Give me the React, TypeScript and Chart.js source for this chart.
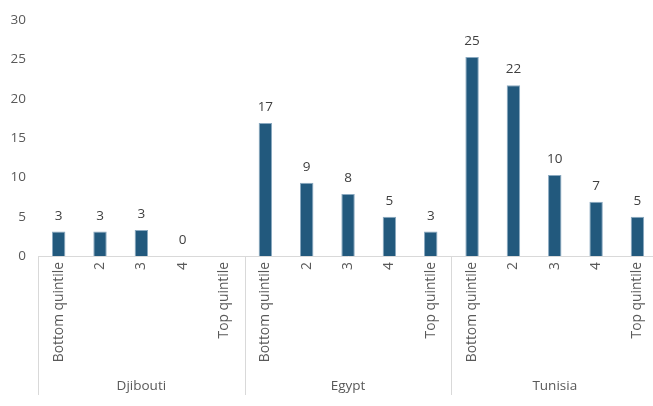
import React, { useEffect, useRef } from "react";
import { Chart, registerables } from "chart.js";

Chart.register(...registerables);

const groups = ["Djibouti", "Egypt", "Tunisia"];
const quintiles = ["Bottom quintile", "2", "3", "4", "Top quintile"];
const djibouti = [3.1, 3.1, 3.3, 0, null];
const egypt = [16.9, 9.3, 7.9, 5.0, 3.1];
const tunisia = [25.3, 21.7, 10.3, 6.9, 5.0];
const yTicks = [0, 5, 10, 15, 20, 25, 30];

const FONT = "'Open Sans', sans-serif";

export default function App() {
  const ref = useRef<HTMLCanvasElement | null>(null);

  useEffect(() => {
    const canvas = ref.current!;
    const labels: string[] = [];
    groups.forEach(() => quintiles.forEach((q) => labels.push(q)));
    const values = [...djibouti, ...egypt, ...tunisia];

    const groupPlugin = {
      id: "groupPlugin",
      afterDraw(chart: any) {
        const ctx = chart.ctx;
        const x = chart.scales.x;
        const area = chart.chartArea;
        const n = quintiles.length;
        const step = x.getPixelForValue(1) - x.getPixelForValue(0);
        ctx.save();
        ctx.strokeStyle = "#d9d9d9";
        ctx.lineWidth = 1;
        for (let g = 0; g <= groups.length; g++) {
          const px = Math.round(x.getPixelForValue(g * n) - step / 2) + 0.5;
          ctx.beginPath();
          ctx.moveTo(px, area.bottom);
          ctx.lineTo(px, area.bottom + 139);
          ctx.stroke();
        }
        ctx.fillStyle = "#595959";
        ctx.font = `13.5px ${FONT}`;
        ctx.textAlign = "center";
        ctx.textBaseline = "middle";
        groups.forEach((g, i) => {
          const cx = (x.getPixelForValue(i * n) + x.getPixelForValue(i * n + n - 1)) / 2;
          ctx.fillText(g, cx, area.bottom + 130);
        });
        // data labels
        const meta = chart.getDatasetMeta(0);
        ctx.fillStyle = "#404040";
        ctx.font = `13.5px ${FONT}`;
        ctx.textBaseline = "alphabetic";
        meta.data.forEach((bar: any, i: number) => {
          const v = values[i];
          if (v === null || v === undefined) return;
          ctx.fillText(String(Math.round(v as number)), bar.x, bar.y - 12);
        });
        ctx.restore();
      },
    };

    const chart = new Chart(canvas, {
      type: "bar",
      data: {
        labels,
        datasets: [
          {
            data: values as any,
            backgroundColor: "#22597d",
            borderColor: "#8aa9c0",
            borderWidth: 1,
            categoryPercentage: 1,
            barPercentage: 0.325,
          },
        ],
      },
      options: {
        responsive: false,
        animation: false,
        layout: { padding: { top: 9, right: 0, left: 0, bottom: 0 } },
        plugins: { legend: { display: false }, tooltip: { enabled: false } },
        scales: {
          x: {
            grid: { display: false, drawTicks: false },
            border: { display: true, color: "#d9d9d9" },
            ticks: {
              color: "#595959",
              font: { family: FONT, size: 13.8 },
              minRotation: 90,
              maxRotation: 90,
              padding: 6,
              autoSkip: false,
            },
            afterFit: (s: any) => {
              s.height = 150;
            },
          },
          y: {
            min: 0,
            max: 30,
            grid: { display: false, drawTicks: false },
            border: { display: false },
            afterBuildTicks: (s: any) => {
              s.ticks = yTicks.map((v) => ({ value: v }));
            },
            ticks: {
              color: "#595959",
              font: { family: FONT, size: 13.5 },
              padding: 12,
            },
            afterFit: (s: any) => {
              s.width = 38;
            },
          },
        },
      },
      plugins: [groupPlugin],
    });
    return () => chart.destroy();
  }, []);

  return (
    <div
      style={{
        position: "fixed",
        left: 0,
        top: 0,
        width: 653,
        height: 406,
        overflow: "hidden",
        background: "#fff",
      }}
    >
      <canvas ref={ref} width={660} height={406} style={{ width: 660, height: 406, display: "block" }} />
    </div>
  );
}
